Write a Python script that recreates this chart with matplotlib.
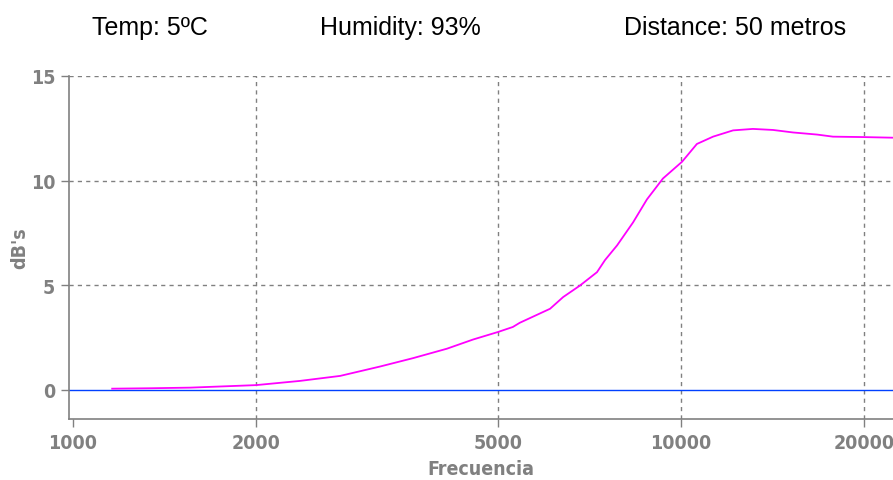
import matplotlib
matplotlib.use("Agg")
import matplotlib.pyplot as plt
from matplotlib.ticker import FixedLocator, NullLocator

# Datos
freq = [1160, 1340, 1560, 2000, 2360, 2750, 3200, 3625, 4120, 4550, 5000,
        5290, 5430, 6090, 6400, 6820, 7275, 7500, 7850, 8340, 8790, 9340,
        10040, 10620, 11290, 12180, 13130, 14170, 15290, 16740, 17780,
        19920, 22320]
db = [0.05, 0.07, 0.10, 0.22, 0.42, 0.66, 1.11, 1.51, 1.96, 2.40, 2.76,
      3.0, 3.2, 3.87, 4.43, 4.98, 5.62, 6.2, 6.9, 8.0, 9.1, 10.1,
      10.9, 11.75, 12.1, 12.4, 12.47, 12.42, 12.3, 12.2, 12.1,
      12.08, 12.05]
xticks = [1000, 2000, 5000, 10000, 20000]
yticks = [0, 5, 10, 15]
header = ["Temp: 5ºC", "Humidity: 93%", "Distance: 50 metros"]
header_x = [150, 400, 735]

gray = '#808080'
tick_kw = dict(family='DejaVu Sans', fontstretch='condensed', fontweight='bold')

fig = plt.figure(figsize=(8.93, 4.81), dpi=100)
ax = fig.add_axes([69 / 893, 1 - 420 / 481, 1 - 69 / 893, (420 - 77) / 481])

ax.set_xscale('log')
ax.set_xlim(985, 22320)
ax.set_ylim(-1.4, 15)

# Línea de referencia en 0 y curva
ax.axhline(0, color='#0040ff', linewidth=1.0, zorder=2)
ax.plot(freq, db, color='#ff00ff', linewidth=1.3, zorder=3)

# Ejes y rejilla
ax.xaxis.set_major_locator(FixedLocator(xticks))
ax.xaxis.set_minor_locator(NullLocator())
ax.set_xticklabels([str(t) for t in xticks])
ax.set_yticks(yticks)
ax.set_yticklabels([str(t) for t in yticks])

for t in xticks[1:]:
    ax.axvline(t, color=gray, linestyle=(0, (3, 3)), linewidth=1.0, zorder=1)
for t in yticks[1:]:
    ax.axhline(t, color=gray, linestyle=(0, (3, 3)), linewidth=1.0, zorder=1)

for side in ['top', 'right']:
    ax.spines[side].set_visible(False)
for side in ['left', 'bottom']:
    ax.spines[side].set_color(gray)
    ax.spines[side].set_linewidth(1.2)

ax.tick_params(colors=gray, length=6, width=1.0, labelsize=14, pad=4)
for lbl in ax.get_xticklabels() + ax.get_yticklabels():
    lbl.set_family('DejaVu Sans')
    lbl.set_fontstretch('condensed')
    lbl.set_fontweight('bold')

ax.set_xlabel('Frecuencia', color=gray, fontsize=14, labelpad=5, **tick_kw)
ax.set_ylabel("dB's", color=gray, fontsize=14, labelpad=1, **tick_kw)

# Cabecera
for txt, xp in zip(header, header_x):
    fig.text(xp / 893, 1 - 28 / 481, txt, ha='center', va='center',
             fontsize=18, family=['Liberation Sans', 'DejaVu Sans'])

fig.savefig('out.png', dpi=100, facecolor='white')
